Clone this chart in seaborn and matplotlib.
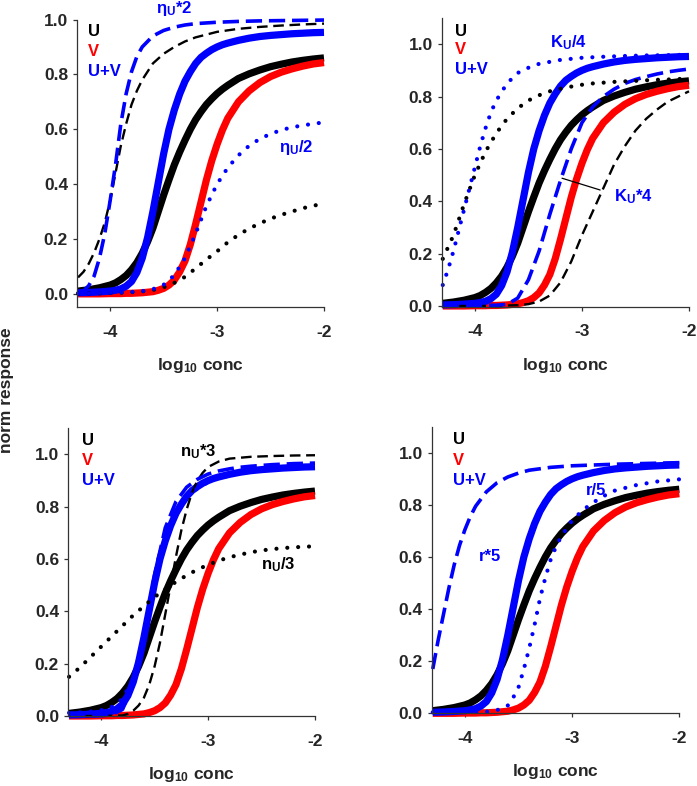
import matplotlib
matplotlib.use("Agg")
import matplotlib.pyplot as plt
import seaborn as sns
from matplotlib.ticker import FormatStrFormatter

# ---------------- data ----------------
x_fine = [-4.3, -4.2, -4.1, -4.0, -3.95, -3.9, -3.85, -3.8, -3.75, -3.7, -3.65, -3.6,
          -3.55, -3.5, -3.45, -3.4, -3.35, -3.3, -3.25, -3.2, -3.15, -3.1, -3.05, -3.0,
          -2.95, -2.9, -2.8, -2.7, -2.6, -2.5, -2.4, -2.3, -2.2, -2.1, -2.0]
u_resp = [0.010, 0.015, 0.022, 0.032, 0.04, 0.052, 0.067, 0.088, 0.114, 0.148, 0.19, 0.24,
          0.30, 0.36, 0.416, 0.47, 0.517, 0.56, 0.60, 0.635, 0.664, 0.69, 0.711, 0.73,
          0.746, 0.76, 0.785, 0.802, 0.816, 0.828, 0.837, 0.845, 0.851, 0.856, 0.86]
v_resp = [0.0, 0.0, 0.0, 0.001, 0.001, 0.001, 0.002, 0.002, 0.003, 0.004, 0.006, 0.008,
          0.013, 0.02, 0.032, 0.05, 0.08, 0.12, 0.18, 0.255, 0.335, 0.415, 0.485, 0.545,
          0.597, 0.64, 0.70, 0.74, 0.77, 0.792, 0.808, 0.82, 0.83, 0.838, 0.843]
uv_resp = [0.004, 0.005, 0.007, 0.01, 0.013, 0.018, 0.028, 0.045, 0.078, 0.13, 0.205, 0.30,
           0.405, 0.51, 0.60, 0.67, 0.728, 0.775, 0.81, 0.84, 0.862, 0.877, 0.89, 0.90,
           0.908, 0.914, 0.924, 0.932, 0.938, 0.942, 0.945, 0.948, 0.95, 0.952, 0.953]

x_base = [-4.3, -4.2, -4.1, -4.0, -3.9, -3.8, -3.7, -3.6, -3.5, -3.4, -3.3, -3.2,
          -3.1, -3.0, -2.9, -2.8, -2.7, -2.6, -2.5, -2.4, -2.3, -2.2, -2.1, -2.0]

# panel 1 : eta_U variations
x_eta2 = [-4.3, -4.25, -4.2, -4.15, -4.1, -4.05, -4.0, -3.95, -3.9, -3.85, -3.8, -3.75,
          -3.7, -3.6, -3.5, -3.4, -3.3, -3.2, -3.0, -2.8, -2.6, -2.4, -2.2, -2.0]
uv_eta2 = [0.003, 0.01, 0.03, 0.065, 0.13, 0.22, 0.34, 0.47, 0.62, 0.73, 0.81, 0.865,
           0.90, 0.94, 0.96, 0.972, 0.98, 0.985, 0.99, 0.993, 0.995, 0.996, 0.997, 0.998]
u_eta2 = [0.06, 0.08, 0.11, 0.15, 0.20, 0.26, 0.34, 0.44, 0.54, 0.62, 0.69, 0.74,
          0.78, 0.84, 0.875, 0.90, 0.92, 0.935, 0.955, 0.966, 0.973, 0.978, 0.982, 0.985]
uv_eta_half = [0.002, 0.002, 0.003, 0.004, 0.005, 0.007, 0.01, 0.017, 0.033, 0.068, 0.13, 0.22,
               0.32, 0.40, 0.46, 0.505, 0.54, 0.565, 0.583, 0.597, 0.607, 0.614, 0.62, 0.625]
u_eta_half = [0.001, 0.002, 0.002, 0.003, 0.004, 0.006, 0.009, 0.014, 0.024, 0.04, 0.062, 0.093,
              0.125, 0.155, 0.188, 0.215, 0.238, 0.257, 0.274, 0.288, 0.30, 0.312, 0.321, 0.33]

# panel 2 : K_U variations
x_k4 = [-4.3, -4.25, -4.2, -4.15, -4.1, -4.05, -4.0, -3.95, -3.9, -3.85, -3.8, -3.7,
        -3.6, -3.5, -3.4, -3.2, -3.0, -2.8, -2.6, -2.4, -2.2, -2.0]
uv_k_quarter = [0.08, 0.14, 0.21, 0.29, 0.37, 0.45, 0.53, 0.61, 0.68, 0.74, 0.785, 0.85,
                0.89, 0.91, 0.925, 0.94, 0.948, 0.952, 0.955, 0.957, 0.958, 0.96]
u_k_quarter = [0.18, 0.27, 0.39, 0.50, 0.59, 0.66, 0.715, 0.755, 0.785, 0.805, 0.82, 0.83,
               0.838, 0.845, 0.85, 0.853, 0.856, 0.858, 0.86, 0.862, 0.864, 0.865, 0.867, 0.868]
uv_k_times4 = [0.001, 0.001, 0.001, 0.001, 0.002, 0.003, 0.006, 0.03, 0.10, 0.21, 0.35, 0.48,
               0.60, 0.70, 0.76, 0.80, 0.828, 0.85, 0.865, 0.876, 0.886, 0.894, 0.90, 0.905]
u_k_times4 = [0.0, 0.0, 0.0, 0.0, 0.0, 0.001, 0.002, 0.003, 0.007, 0.017, 0.04, 0.09,
              0.17, 0.27, 0.36, 0.45, 0.54, 0.61, 0.67, 0.715, 0.75, 0.78, 0.80, 0.82]

# panel 3 : n_U variations
uv_n3 = [0.0, 0.0, 0.0, 0.001, 0.005, 0.025, 0.12, 0.30, 0.54, 0.72, 0.82, 0.875,
         0.905, 0.925, 0.937, 0.945, 0.951, 0.955, 0.958, 0.961, 0.963, 0.965, 0.966, 0.967]
uv_n_third = [0.012, 0.014, 0.017, 0.022, 0.035, 0.065, 0.145, 0.30, 0.52, 0.68, 0.775, 0.835,
              0.87, 0.895, 0.91, 0.92, 0.928, 0.935, 0.94, 0.944, 0.948, 0.951, 0.954, 0.956]
x_n3 = [-4.3, -4.0, -3.8, -3.75, -3.7, -3.65, -3.6, -3.55, -3.5, -3.45, -3.4, -3.35, -3.3,
        -3.25, -3.2, -3.15, -3.1, -3.05, -3.0, -2.9, -2.8, -2.6, -2.4, -2.2, -2.0]
u_n3 = [0.0, 0.0, 0.002, 0.008, 0.02, 0.04, 0.07, 0.12, 0.19, 0.28, 0.39, 0.50, 0.61,
        0.71, 0.79, 0.855, 0.90, 0.93, 0.952, 0.973, 0.984, 0.991, 0.994, 0.996, 0.997]
u_n_third = [0.15, 0.185, 0.225, 0.265, 0.305, 0.345, 0.385, 0.42, 0.455, 0.485, 0.513, 0.538,
             0.56, 0.578, 0.594, 0.607, 0.617, 0.626, 0.633, 0.638, 0.642, 0.645, 0.647, 0.649]

# panel 4 : r variations
x_r5 = [-4.3, -4.25, -4.2, -4.15, -4.1, -4.05, -4.0, -3.95, -3.9, -3.8, -3.7, -3.6, -3.5,
        -3.4, -3.2, -3.0, -2.8, -2.6, -2.4, -2.2, -2.0]
uv_r5 = [0.17, 0.28, 0.38, 0.48, 0.57, 0.645, 0.705, 0.755, 0.795, 0.85, 0.885, 0.907, 0.922,
         0.933, 0.944, 0.95, 0.953, 0.956, 0.958, 0.96, 0.962]
x_r_fifth = [-4.3, -4.0, -3.8, -3.7, -3.6, -3.55, -3.5, -3.45, -3.4, -3.35, -3.3, -3.25, -3.2,
             -3.15, -3.1, -3.0, -2.9, -2.8, -2.7, -2.6, -2.4, -2.2, -2.0]
uv_r_fifth = [0.004, 0.004, 0.006, 0.012, 0.03, 0.06, 0.10, 0.17, 0.25, 0.34, 0.44, 0.52, 0.59,
              0.64, 0.68, 0.74, 0.78, 0.81, 0.835, 0.855, 0.876, 0.89, 0.898]

legend_labels = ["U", "V", "U+V"]
x_ticks = [-4, -3, -2]
y_ticks = [0.0, 0.2, 0.4, 0.6, 0.8, 1.0]

# ---------------- style ----------------
sns.set_style("ticks")
plt.rcParams['font.family'] = ['Liberation Sans', 'DejaVu Sans']
plt.rcParams['font.weight'] = 'bold'
plt.rcParams['mathtext.fontset'] = 'custom'
plt.rcParams['mathtext.rm'] = 'Liberation Sans:bold'
plt.rcParams['mathtext.bf'] = 'Liberation Sans:bold'
plt.rcParams['mathtext.it'] = 'Liberation Sans:bold'
plt.rcParams['mathtext.default'] = 'bf'

BLUE = "#0000FF"
RED = "#FF0000"
BLACK = "#000000"
TH = 5.2
DOT = (0, (0.01, 2.6))
DASH_B = (0, (4.5, 1.9))
DASH_K = (0, (4.5, 2.4))

fig = plt.figure(figsize=(6.97, 7.86), dpi=100)
W, H = 697.0, 786.0
positions = [
    (77, 324, 19.5, 307.3),
    (441.7, 689, 18, 306.5),
    (68, 315, 428.3, 716),
    (431.7, 679.3, 426.7, 713.3),
]
ylims = [(-0.049, 1.0), (-0.002, 1.1), (0.0, 1.1), (0.0, 1.1)]
axes = []
for (l, r, t, b), yl in zip(positions, ylims):
    ax = fig.add_axes([l / W, 1 - b / H, (r - l) / W, (b - t) / H])
    ax.set_xlim(-4.31, -2.0)
    ax.set_ylim(*yl)
    axes.append(ax)


def line(ax, x, y, color, lw, ls="-", cap="butt"):
    sns.lineplot(x=x, y=y, ax=ax, color=color, linewidth=lw, linestyle=ls,
                 dash_capstyle=cap, solid_capstyle="butt", solid_joinstyle="round",
                 sort=False, estimator=None, legend=False, clip_on=False)


for ax in axes:
    line(ax, x_fine, u_resp, BLACK, TH)
    line(ax, x_fine, v_resp, RED, TH)
    line(ax, x_fine, uv_resp, BLUE, TH)

a1, a2, a3, a4 = axes
# panel 1
line(a1, x_eta2, u_eta2, BLACK, 1.7, DASH_K)
line(a1, x_eta2, uv_eta2, BLUE, 2.6, DASH_B)
line(a1, x_base, u_eta_half, BLACK, 3.0, DOT, "round")
line(a1, x_base, uv_eta_half, BLUE, 3.0, DOT, "round")
# panel 2
line(a2, x_base, u_k_times4, BLACK, 1.7, DASH_K)
line(a2, x_base, uv_k_times4, BLUE, 2.6, DASH_B)
line(a2, x_base, u_k_quarter, BLACK, 3.0, DOT, "round")
line(a2, x_k4, uv_k_quarter, BLUE, 3.0, DOT, "round")
# panel 3
line(a3, x_n3, u_n3, BLACK, 1.7, DASH_K)
line(a3, x_base, uv_n3, BLUE, 2.6, DASH_B)
line(a3, x_base, u_n_third, BLACK, 3.0, DOT, "round")
line(a3, x_base, uv_n_third, BLUE, 3.0, DOT, "round")
# panel 4
line(a4, x_r5, uv_r5, BLUE, 2.6, DASH_B)
line(a4, x_r_fifth, uv_r_fifth, BLUE, 3.0, DOT, "round")

TXT = dict(fontsize=12, fontweight="bold", va="center", ha="left")

# legends (coloured labels)
leg_pos = [(-4.21, [0.955, 0.882, 0.81]),
           (-4.186, [1.048, 0.978, 0.902]),
           (-4.18, [1.055, 0.978, 0.902]),
           (-4.115, [1.049, 0.972, 0.893])]
for ax, (lx, ys) in zip(axes, leg_pos):
    for lab, yy, c in zip(legend_labels, ys, [BLACK, RED, BLUE]):
        ax.text(lx, yy, lab, color=c, clip_on=False, **TXT)

# annotations
a1.text(-3.57, 1.04, r"η$_\mathregular{U}$*2", color=BLUE, clip_on=False, **TXT)
a1.text(-2.42, 0.535, r"η$_\mathregular{U}$/2", color=BLUE, **TXT)
a2.text(-3.30, 1.005, r"K$_\mathregular{U}$/4", color=BLUE, **TXT)
a2.text(-2.70, 0.417, r"K$_\mathregular{U}$*4", color=BLUE, **TXT)
a2.plot([-3.186, -2.83], [0.488, 0.443], color=BLACK, linewidth=0.9)
a3.text(-3.26, 1.009, r"n$_\mathregular{U}$*3", color=BLACK, **TXT)
a3.text(-2.505, 0.577, r"n$_\mathregular{U}$/3", color=BLACK, **TXT)
a4.text(-3.87, 0.60, "r*5", color=BLUE, **TXT)
a4.text(-2.87, 0.857, "r/5", color=BLUE, **TXT)

for ax in axes:
    sns.despine(ax=ax)
    ax.set_xticks(x_ticks)
    ax.set_yticks(y_ticks)
    ax.yaxis.set_major_formatter(FormatStrFormatter('%.1f'))
    ax.xaxis.set_major_formatter(FormatStrFormatter('%d'))
    ax.tick_params(axis='x', direction='out', length=3.2, width=0.9, pad=9.5,
                   labelsize=12.5, color="#333333")
    ax.tick_params(axis='y', direction='out', length=3.0, width=0.9, pad=3.4,
                   labelsize=12.5, color="#333333")
    for lab in ax.get_xticklabels() + ax.get_yticklabels():
        lab.set_fontweight("bold")
    for sp in ("left", "bottom"):
        ax.spines[sp].set_linewidth(0.9)
        ax.spines[sp].set_color("#333333")
    ax.set_xlabel(r"log$_\mathregular{10}$ conc", fontsize=12.5, fontweight="bold",
                  labelpad=11.8)
    ax.set_ylabel("")

fig.text(7 / W, 1 - 390 / H, "norm response", rotation=90, fontsize=12.5,
         fontweight="bold", ha="center", va="center")

fig.savefig("out.png", dpi=100)
